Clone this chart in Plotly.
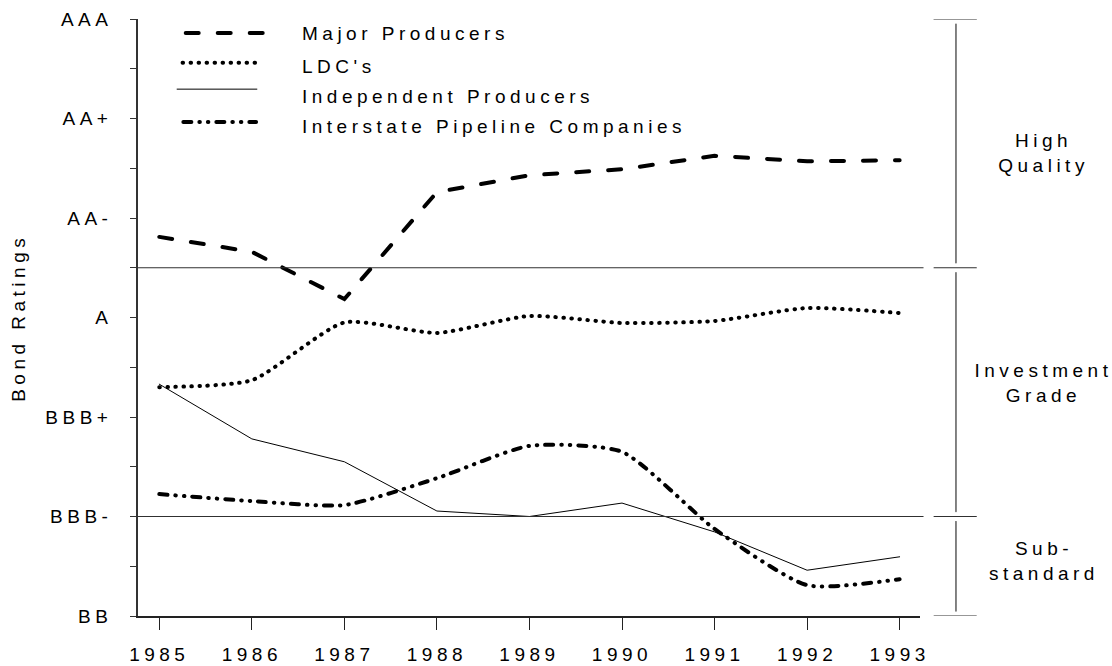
import plotly.graph_objects as go

# Bond rating scale, one step per notch from BB (0) up to AAA (12)
rating_ticks = list(range(13))
rating_text = ["BB", "", "BBB-", "", "BBB+", "", "A", "", "AA-", "", "AA+", "", "AAA"]

years = [1985, 1986, 1987, 1988, 1989, 1990, 1991, 1992, 1993]

major_producers = [7.62, 7.32, 6.37, 8.52, 8.86, 8.98, 9.25, 9.14, 9.16]
ldcs = [4.60, 4.74, 5.90, 5.69, 6.03, 5.89, 5.93, 6.19, 6.09]
independent_producers = [4.66, 3.56, 3.10, 2.11, 2.00, 2.27, 1.69, 0.92, 1.19]
interstate_pipelines = [2.45, 2.31, 2.23, 2.77, 3.42, 3.30, 1.75, 0.62, 0.74]

series_names = ["Major Producers", "LDC's", "Independent Producers", "Interstate Pipeline Companies"]

# Rating band boundaries, labels and label heights
band_edges = [12, 7, 2, 0]
band_labels = ["High<br>Quality", "Investment<br>Grade", "Sub-<br>standard"]
band_label_y = [9.3, 4.68, 1.1]

FONT = "Liberation Sans, Arial, sans-serif"
FSIZE = 19
INK = "#000000"
RULE = "#303030"

# Line styles per series (round caps are applied to the strokes below, so
# dash segments are drawn shorter and gaps longer by the line width)
styles = [
    dict(color=INK, width=4, dash="13px,19px"),
    dict(color=INK, width=4, dash="0.5px,7.5px", shape="spline", smoothing=0.6),
    dict(color=INK, width=1),
    dict(color=INK, width=4, dash="8px,8px,0.5px,8px,0.5px,8px", shape="spline", smoothing=0.6),
]
series_values = [major_producers, ldcs, independent_producers, interstate_pipelines]

fig = go.Figure()
for name, values, style in zip(series_names, series_values, styles):
    fig.add_trace(go.Scatter(x=years, y=values, name=name, mode="lines",
                             line=style, showlegend=False))

# Key in the upper-left corner: sample stroke plus label for each series
key_line_y = [11.72, 11.12, 10.59, 9.93]
key_text_y = [11.70, 11.04, 10.45, 9.83]
key_line_x = [(0.061, 0.161), (0.057, 0.157), (0.050, 0.152), (0.058, 0.151)]
for name, style, ly, ty, (x0, x1) in zip(series_names, styles, key_line_y, key_text_y, key_line_x):
    fig.add_shape(type="line", xref="paper", yref="y", x0=x0, x1=x1, y0=ly, y1=ly,
                  line=dict(color=style["color"], width=style["width"], dash=style.get("dash", "solid")))
    fig.add_annotation(xref="paper", yref="y", x=0.207, y=ty, text=name, showarrow=False,
                       xanchor="left", yanchor="middle", align="left",
                       font=dict(family=FONT, size=FSIZE, color=INK))

# Band boundary rules across the plot
for level in band_edges[1:3]:
    fig.add_shape(type="line", xref="paper", yref="y", x0=0, x1=1.004, y0=level, y1=level,
                  line=dict(color=RULE, width=1))

# Bracket on the right marking each band
bx, cap0, cap1 = 1.046, 1.018, 1.072
for level in band_edges:
    fig.add_shape(type="line", xref="paper", yref="y", x0=cap0, x1=cap1, y0=level, y1=level,
                  line=dict(color=RULE, width=1.2))
for top, bottom in zip(band_edges[:-1], band_edges[1:]):
    fig.add_shape(type="line", xref="paper", yref="y", x0=bx, x1=bx, y0=top - 0.1, y1=bottom + 0.1,
                  line=dict(color=RULE, width=1.2))
for label, yv in zip(band_labels, band_label_y):
    fig.add_annotation(xref="paper", yref="y", x=1.158, y=yv, text=label, showarrow=False,
                       xanchor="center", yanchor="middle", align="center",
                       font=dict(family=FONT, size=FSIZE, color=INK))

# Rotated axis title
fig.add_annotation(xref="paper", yref="y", x=-0.153, y=6.0, text="Bond Ratings", textangle=-90,
                   showarrow=False, xanchor="center", yanchor="middle",
                   font=dict(family=FONT, size=FSIZE, color=INK))

fig.update_layout(
    width=1112, height=666,
    margin=dict(l=138, r=192, t=19, b=50),
    paper_bgcolor="white", plot_bgcolor="white",
    font=dict(family=FONT, size=FSIZE, color=INK),
    showlegend=False,
    xaxis=dict(range=[1984.77, 1993.22], tickvals=years, ticktext=[str(y) for y in years],
               automargin=False,
               showgrid=False, zeroline=False, showline=True, linecolor="#222", linewidth=2,
               ticks="outside", ticklen=12, tickwidth=1, tickcolor="#222",
               ticklabelstandoff=8, tickfont=dict(family=FONT, size=FSIZE, color=INK)),
    yaxis=dict(range=[0, 12], tickvals=rating_ticks, ticktext=rating_text,
               automargin=False,
               showgrid=False, zeroline=False, showline=True, linecolor="#333", linewidth=1.5,
               ticks="outside", ticklen=6, tickwidth=1, tickcolor="#333",
               ticklabelstandoff=14, tickfont=dict(family=FONT, size=FSIZE, color=INK)),
)

# Wide letter spacing for all text, and rounded stroke ends for the series lines
post = """
var s = document.createElement('style');
s.textContent = '.main-svg text { letter-spacing: 4.5px; }' +
  ' .scatterlayer path.js-line, .shapelayer path { stroke-linecap: round; }';
document.head.appendChild(s);
"""

fig.write_html("out.html", post_script=post)
